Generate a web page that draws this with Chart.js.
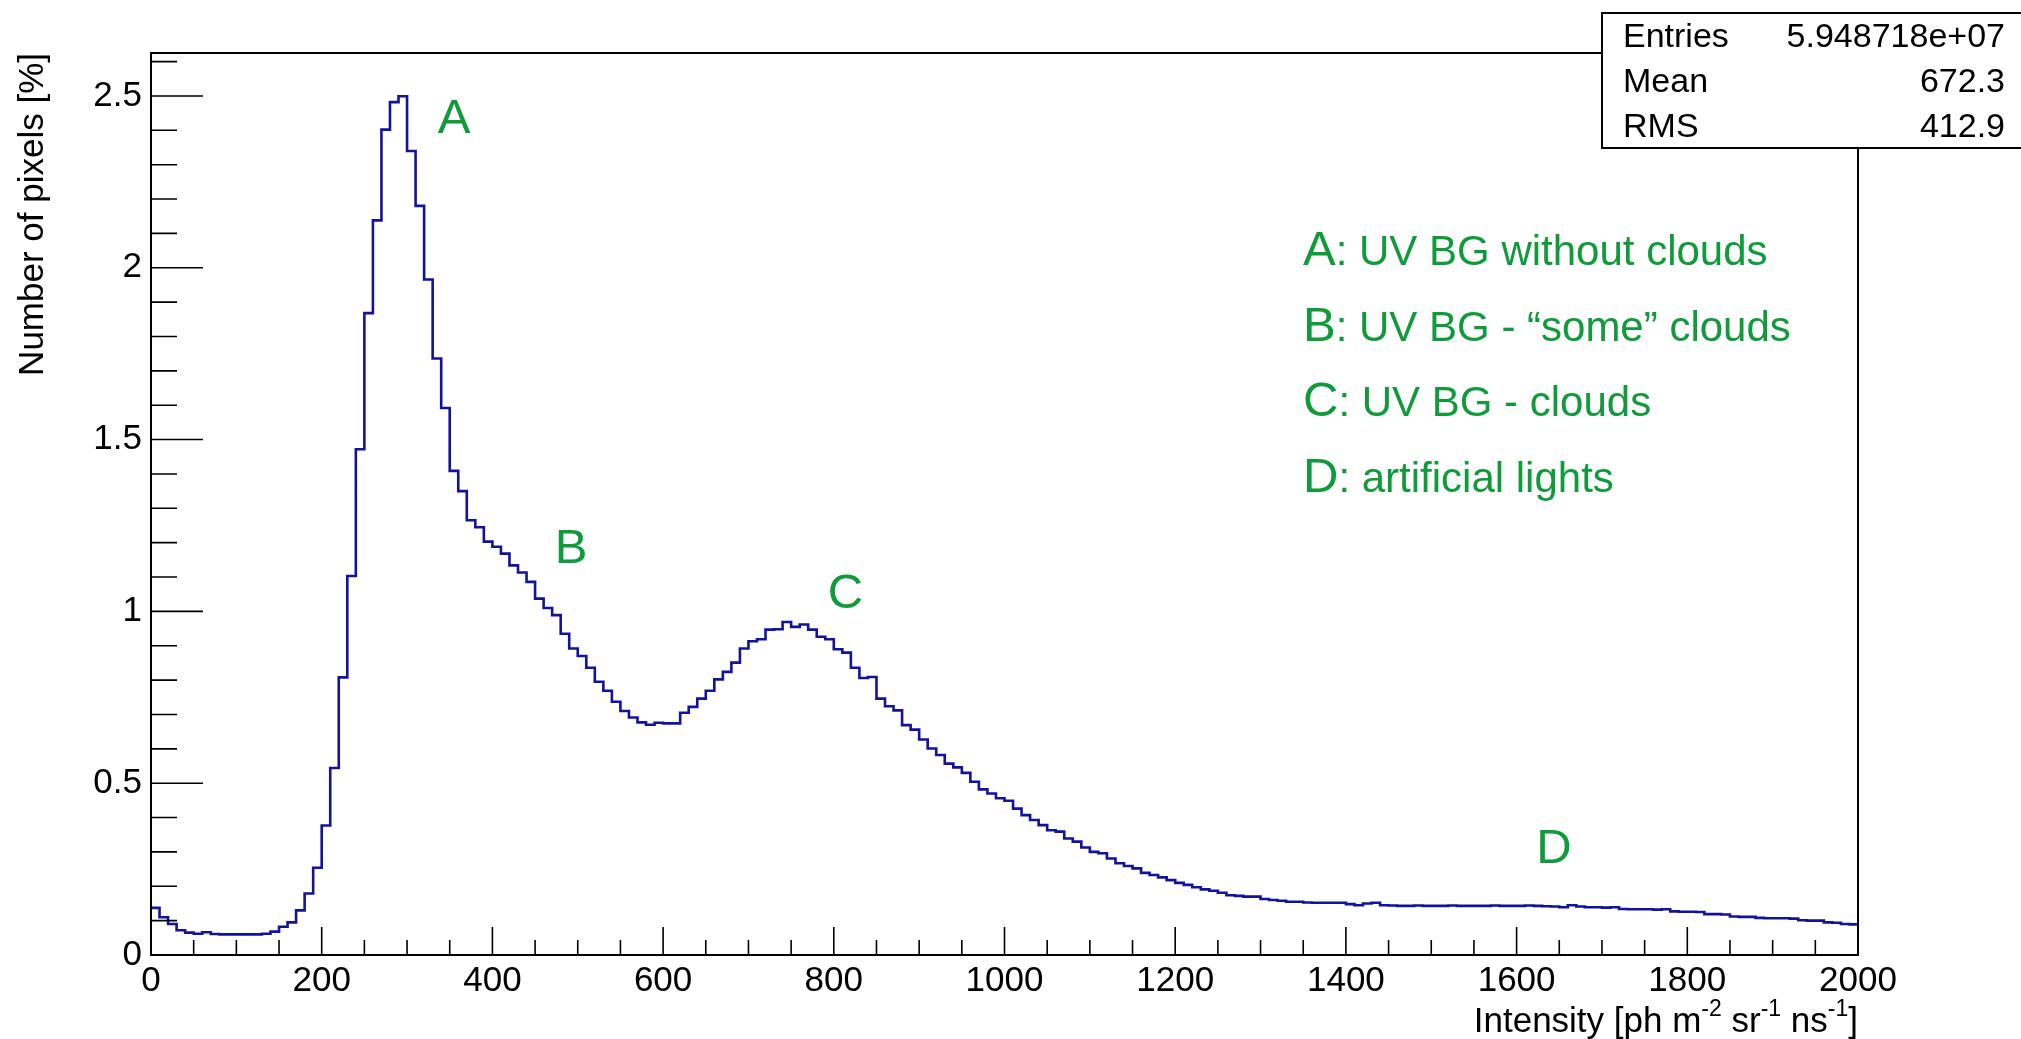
<!DOCTYPE html>
<html>
<head>
<meta charset="utf-8">
<script src="https://cdn.jsdelivr.net/npm/chart.js@4.4.0/dist/chart.umd.min.js"></script>
<style>
  html, body { margin: 0; padding: 0; background: #fff; }
</style>
</head>
<body>
<canvas id="hist" width="2021" height="1039"></canvas>
<script>
// 200 bins of width 10 from 0 to 2000, values in % of pixels
const binWidth = 10;
const pixelPercent = [
  0.137, 0.110, 0.090, 0.072, 0.065, 0.062, 0.066, 0.061, 0.060, 0.060,
  0.060, 0.060, 0.060, 0.062, 0.068, 0.082, 0.095, 0.130, 0.179, 0.254,
  0.377, 0.544, 0.808, 1.103, 1.472, 1.868, 2.138, 2.402, 2.482, 2.499,
  2.340, 2.180, 1.966, 1.736, 1.592, 1.409, 1.350, 1.265, 1.245, 1.203,
  1.188, 1.168, 1.134, 1.113, 1.086, 1.037, 1.010, 0.989, 0.935, 0.892,
  0.870, 0.836, 0.795, 0.769, 0.737, 0.710, 0.691, 0.677, 0.670, 0.676,
  0.674, 0.674, 0.705, 0.722, 0.746, 0.769, 0.802, 0.824, 0.851, 0.892,
  0.913, 0.919, 0.947, 0.948, 0.969, 0.955, 0.962, 0.947, 0.926, 0.919,
  0.890, 0.880, 0.836, 0.806, 0.809, 0.746, 0.724, 0.712, 0.669, 0.656,
  0.627, 0.601, 0.582, 0.557, 0.546, 0.530, 0.504, 0.482, 0.470, 0.456,
  0.449, 0.426, 0.407, 0.393, 0.378, 0.363, 0.359, 0.339, 0.330, 0.313,
  0.300, 0.296, 0.281, 0.267, 0.259, 0.252, 0.239, 0.233, 0.226, 0.218,
  0.210, 0.204, 0.197, 0.191, 0.187, 0.181, 0.174, 0.172, 0.170, 0.170,
  0.163, 0.160, 0.158, 0.155, 0.155, 0.153, 0.152, 0.152, 0.152, 0.152,
  0.148, 0.145, 0.150, 0.152, 0.145, 0.144, 0.143, 0.143, 0.144, 0.143,
  0.143, 0.143, 0.144, 0.143, 0.143, 0.143, 0.143, 0.144, 0.143, 0.143,
  0.143, 0.144, 0.143, 0.142, 0.141, 0.139, 0.145, 0.141, 0.139, 0.139,
  0.138, 0.139, 0.134, 0.133, 0.133, 0.133, 0.132, 0.133, 0.127, 0.126,
  0.126, 0.125, 0.119, 0.119, 0.118, 0.112, 0.111, 0.111, 0.108, 0.107,
  0.107, 0.107, 0.106, 0.101, 0.100, 0.100, 0.095, 0.094, 0.090, 0.089
];

const xTickValues = [0, 200, 400, 600, 800, 1000, 1200, 1400, 1600, 1800, 2000];
const yTickValues = [0, 0.5, 1, 1.5, 2, 2.5];
const xMinorStep = 50;
const yMinorStep = 0.1;

const statsLabels = ['Entries', 'Mean', 'RMS'];
const statsValues = ['5.948718e+07', '672.3', '412.9'];

const peakLetters = ['A', 'B', 'C', 'D'];
const legendTexts = [': UV BG without clouds', ': UV BG - \u201csome\u201d clouds', ': UV BG - clouds', ': artificial lights'];

const FONT = "'Liberation Sans', Arial, Helvetica, sans-serif";
const GREEN = '#0f9b3a';

// bin low edges + closing edge so the stepped line covers the last bin
const points = pixelPercent.map((v, i) => ({ x: i * binWidth, y: v }));
points.push({ x: pixelPercent.length * binWidth, y: pixelPercent[pixelPercent.length - 1] });

const rootStyle = {
    id: 'rootStyle',
    afterDraw(chart) {
        const { ctx, chartArea: a, scales: { x, y } } = chart;
        ctx.save();

        // frame
        ctx.strokeStyle = '#000';
        ctx.lineWidth = 2;
        ctx.strokeRect(a.left, a.top, a.right - a.left, a.bottom - a.top);

        // ticks pointing into the frame, ROOT style
        ctx.lineWidth = 1.6;
        ctx.beginPath();
        for (let v = x.min; v <= x.max + 1e-6; v += xMinorStep) {
            const px = x.getPixelForValue(v);
            const len = xTickValues.includes(v) ? 28 : 15;
            ctx.moveTo(px, a.bottom);
            ctx.lineTo(px, a.bottom - len);
        }
        for (let k = 0; k * yMinorStep <= y.max; k++) {
            const v = Math.round(k * yMinorStep * 10) / 10;
            const py = y.getPixelForValue(v);
            const len = yTickValues.includes(v) ? 52 : 26;
            ctx.moveTo(a.left, py);
            ctx.lineTo(a.left + len, py);
        }
        ctx.stroke();

        // axis titles
        ctx.fillStyle = '#000';
        ctx.font = '35px ' + FONT;
        ctx.save();
        ctx.translate(43, a.top);
        ctx.rotate(-Math.PI / 2);
        ctx.textAlign = 'right';
        ctx.textBaseline = 'alphabetic';
        ctx.fillText('Number of pixels [%]', 0, 0);
        ctx.restore();

        // x title with superscripts, right aligned at the frame edge
        const parts = [
            ['Intensity [ph m', false], ['-2', true], [' sr', false], ['-1', true],
            [' ns', false], ['-1', true], [']', false]
        ];
        const big = '35px ' + FONT, small = '23px ' + FONT;
        let total = 0;
        parts.forEach(([t, sup]) => { ctx.font = sup ? small : big; total += ctx.measureText(t).width; });
        let cx = a.right - total;
        ctx.textAlign = 'left';
        parts.forEach(([t, sup]) => {
            ctx.font = sup ? small : big;
            ctx.fillText(t, cx, sup ? 1016 : 1032);
            cx += ctx.measureText(t).width;
        });

        // stats box
        ctx.fillStyle = '#fff';
        ctx.fillRect(1602, 13, 450, 135);
        ctx.strokeStyle = '#000';
        ctx.lineWidth = 2;
        ctx.strokeRect(1602, 13, 450, 135);
        ctx.fillStyle = '#000';
        ctx.font = '34px ' + FONT;
        statsLabels.forEach((lab, i) => {
            const by = 47 + i * 45;
            ctx.textAlign = 'left';
            ctx.fillText(lab, 1623, by);
            ctx.textAlign = 'right';
            ctx.fillText(statsValues[i], 2005, by);
        });

        // peak letters placed in data coordinates
        const peakAt = [[336, 2.393], [473, 1.14], [793, 1.009], [1623, 0.268]];
        ctx.fillStyle = GREEN;
        ctx.textAlign = 'left';
        ctx.font = '49px ' + FONT;
        peakLetters.forEach((l, i) => {
            ctx.fillText(l, x.getPixelForValue(peakAt[i][0]), y.getPixelForValue(peakAt[i][1]));
        });

        // description list
        peakLetters.forEach((l, i) => {
            const by = 265 + i * 75.5;
            ctx.font = '49px ' + FONT;
            ctx.fillText(l, 1303, by);
            const w = ctx.measureText(l).width;
            ctx.font = '42px ' + FONT;
            ctx.fillText(legendTexts[i], 1303 + w, by);
        });

        ctx.restore();
    }
};

new Chart(document.getElementById('hist'), {
    type: 'line',
    data: {
        datasets: [{
            data: points,
            stepped: true,
            borderColor: '#12129c',
            borderWidth: 2.6,
            pointRadius: 0,
            fill: false
        }]
    },
    options: {
        responsive: false,
        animation: false,
        devicePixelRatio: 1,
        layout: { padding: { left: 0, right: 163, top: 53, bottom: 0 } },
        plugins: { legend: { display: false }, tooltip: { enabled: false } },
        scales: {
            x: {
                type: 'linear',
                min: 0,
                max: 2000,
                afterBuildTicks: s => { s.ticks = xTickValues.map(v => ({ value: v })); },
                afterFit: s => { s.height = 84; },
                grid: { display: false, drawTicks: false },
                border: { display: false },
                ticks: {
                    color: '#000',
                    font: { family: FONT, size: 35 },
                    padding: 5,
                    maxRotation: 0,
                    autoSkip: false,
                    callback: v => String(v)
                }
            },
            y: {
                type: 'linear',
                min: 0,
                max: 2.625,
                afterBuildTicks: s => { s.ticks = yTickValues.map(v => ({ value: v })); },
                afterFit: s => { s.width = 151; },
                grid: { display: false, drawTicks: false },
                border: { display: false },
                ticks: {
                    color: '#000',
                    font: { family: FONT, size: 35 },
                    padding: 9,
                    callback: v => String(v)
                }
            }
        }
    },
    plugins: [rootStyle]
});
</script>
</body>
</html>
